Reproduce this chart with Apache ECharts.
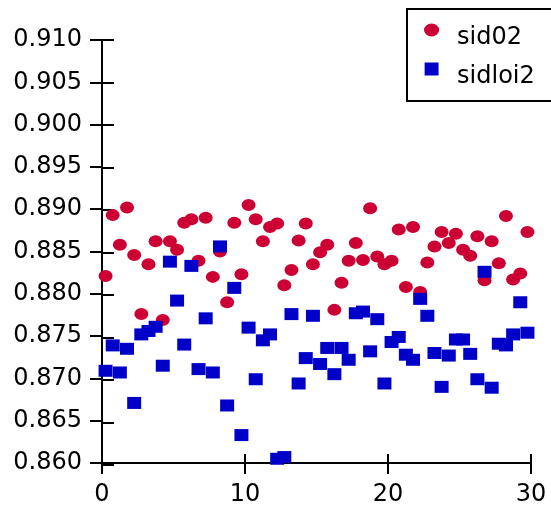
<!DOCTYPE html>
<html>
<head>
<meta charset="utf-8">
<script src="https://cdn.jsdelivr.net/npm/echarts@6/dist/echarts.min.js"></script>
<style>
  html, body { margin: 0; padding: 0; background: #fff; }
  #chart { width: 551px; height: 507px; }
</style>
</head>
<body>
<div id="chart"></div>
<script>
// x positions (shared by both series)
var xValues = [0.25, 0.75, 1.25, 1.75, 2.25, 2.75, 3.25, 3.75, 4.25, 4.75,
  5.25, 5.75, 6.25, 6.75, 7.25, 7.75, 8.25, 8.75, 9.25, 9.75,
  10.25, 10.75, 11.25, 11.75, 12.25, 12.75, 13.25, 13.75, 14.25, 14.75,
  15.25, 15.75, 16.25, 16.75, 17.25, 17.75, 18.25, 18.75, 19.25, 19.75,
  20.25, 20.75, 21.25, 21.75, 22.25, 22.75, 23.25, 23.75, 24.25, 24.75,
  25.25, 25.75, 26.25, 26.75, 27.25, 27.75, 28.25, 28.75, 29.25, 29.75];

// sid02 (red circles)
var sid02 = [0.8821, 0.8893, 0.8858, 0.8902, 0.8846, 0.8776, 0.8835, 0.8862, 0.8769, 0.8862,
  0.8852, 0.8884, 0.8888, 0.8839, 0.8890, 0.8820, 0.8850, 0.8790, 0.8884, 0.8823,
  0.8905, 0.8888, 0.8862, 0.8879, 0.8883, 0.8810, 0.8828, 0.8863, 0.8883, 0.8835,
  0.8849, 0.8858, 0.8781, 0.8813, 0.8839, 0.8860, 0.8840, 0.8901, 0.8844, 0.8835,
  0.8839, 0.8876, 0.8808, 0.8879, 0.8802, 0.8837, 0.8856, 0.8873, 0.8860, 0.8871,
  0.8852, 0.8845, 0.8868, 0.8816, 0.8862, 0.8836, 0.8892, 0.8817, 0.8824, 0.8873];

// sidloi2 (blue squares)
var sidloi2 = [0.8709, 0.8739, 0.8707, 0.8735, 0.8671, 0.8752, 0.8756, 0.8761, 0.8715, 0.8838,
  0.8792, 0.8740, 0.8833, 0.8711, 0.8771, 0.8707, 0.8856, 0.8668, 0.8807, 0.8633,
  0.8760, 0.8699, 0.8745, 0.8752, 0.8605, 0.8607, 0.8776, 0.8694, 0.8724, 0.8774,
  0.8717, 0.8736, 0.8705, 0.8736, 0.8722, 0.8777, 0.8779, 0.8732, 0.8770, 0.8694,
  0.8743, 0.8749, 0.8728, 0.8722, 0.8794, 0.8774, 0.8730, 0.8690, 0.8727, 0.8746,
  0.8746, 0.8729, 0.8699, 0.8826, 0.8689, 0.8741, 0.8739, 0.8752, 0.8790, 0.8754];

var xTicks = { min: 0, max: 30, interval: 10 };
var yTicks = { min: 0.860, max: 0.910, interval: 0.005 };

var FONT = 'DejaVu Sans';
var ellipse = 'path://M0,6a7,6 0 1,0 14,0a7,6 0 1,0 -14,0z';
var square = 'path://M0,0h15v14h-15z';

function pairs(xs, ys) {
  return xs.map(function (x, i) { return [x, ys[i]]; });
}

var chart = echarts.init(document.getElementById('chart'), null, { renderer: 'canvas' });

var gridBox = { left: 102, right: 20, top: 40, bottom: 42 };

// 画刻度（外侧 + 内侧）
function xAxisOpt(gridIndex, inside) {
  return {
    type: 'value', gridIndex: gridIndex,
    min: xTicks.min, max: xTicks.max, interval: xTicks.interval,
    axisLine: { show: !inside, lineStyle: { color: '#000', width: 2 } },
    axisTick: { show: true, inside: inside, length: 11, lineStyle: { color: '#000', width: 2 } },
    axisLabel: { show: !inside, margin: 20, color: '#000', fontSize: 24, fontFamily: FONT },
    splitLine: { show: false }
  };
}
function yAxisOpt(gridIndex, inside) {
  return {
    type: 'value', gridIndex: gridIndex,
    min: yTicks.min, max: yTicks.max, interval: yTicks.interval,
    axisLine: { show: !inside, lineStyle: { color: '#000', width: 2 } },
    axisTick: { show: true, inside: inside, length: 12, lineStyle: { color: '#000', width: 2 } },
    axisLabel: {
      show: !inside, margin: 20, color: '#000', fontSize: 24, fontFamily: FONT,
      formatter: function (v) { return v.toFixed(3); }
    },
    splitLine: { show: false }
  };
}

var option = {
  animation: false,
  backgroundColor: '#fff',
  grid: [
    Object.assign({}, gridBox),
    Object.assign({}, gridBox)
  ],
  xAxis: [xAxisOpt(0, false), xAxisOpt(1, true)],
  yAxis: [yAxisOpt(0, false), yAxisOpt(1, true)],
  legend: {
    orient: 'vertical',
    left: 407, top: 9,
    padding: [1, 20, 12, 17],
    itemGap: -1,
    itemWidth: 41, itemHeight: 13,
    symbolKeepAspect: true,
    borderColor: '#000', borderWidth: 2,
    // 空的第一行让文字比图标略低
    formatter: function (name) { return ' \n' + name; },
    textStyle: { color: '#000', fontSize: 24, fontFamily: FONT, lineHeight: 16 },
    data: [
      { name: 'sid02', icon: ellipse },
      { name: 'sidloi2', icon: square }
    ]
  },
  series: [
    {
      name: 'sid02', type: 'scatter',
      symbol: ellipse, symbolSize: [14, 12],
      itemStyle: { color: '#cc0033', opacity: 1 },
      data: pairs(xValues, sid02)
    },
    {
      name: 'sidloi2', type: 'scatter',
      symbol: 'rect', symbolSize: [14, 12],
      itemStyle: { color: '#0000c8', opacity: 1 },
      data: pairs(xValues, sidloi2)
    }
  ]
};

chart.setOption(option);
</script>
</body>
</html>
